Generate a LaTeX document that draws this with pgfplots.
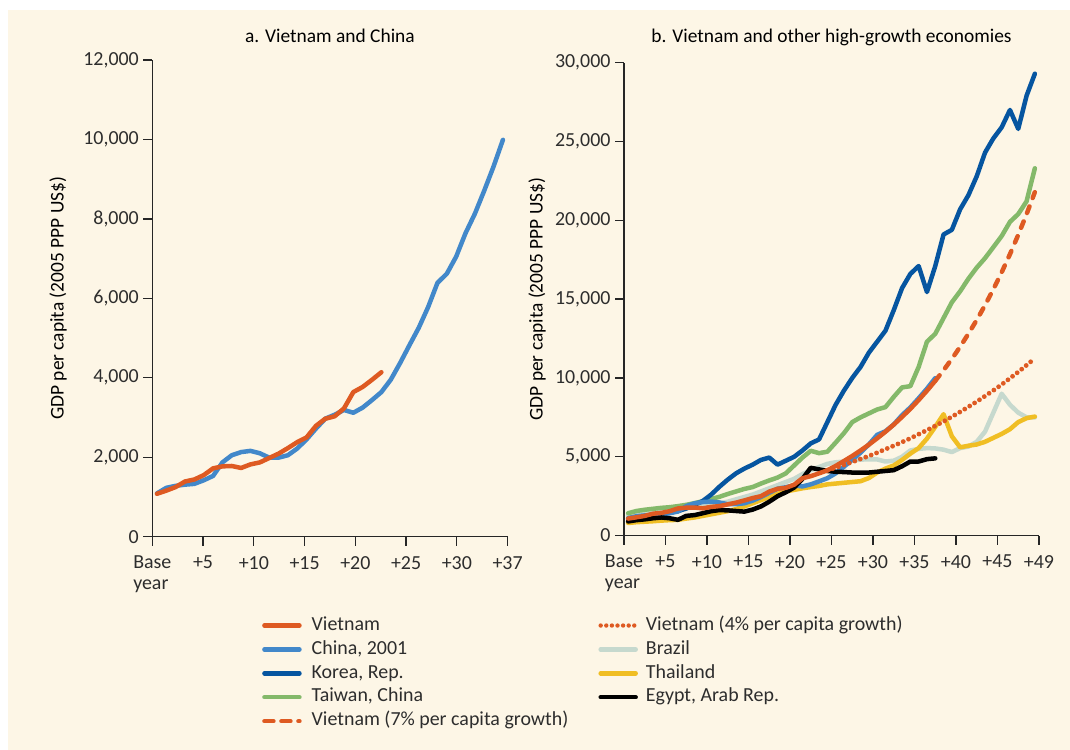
\documentclass[border=0pt]{standalone}
\usepackage{fontspec}
\setmainfont{Carlito}
\usepackage{pgfplots}
\usepackage{pgfplotstable}
\pgfplotsset{compat=1.18}
\definecolor{bg}{RGB}{253,246,230}
\definecolor{vn}{RGB}{222,90,34}
\definecolor{cn}{RGB}{66,136,202}
\definecolor{kr}{RGB}{6,85,160}
\definecolor{tw}{RGB}{132,185,106}
\definecolor{br}{RGB}{198,217,206}
\definecolor{th}{RGB}{240,190,36}
\definecolor{eg}{RGB}{0,0,0}
\definecolor{txt}{RGB}{45,45,45}

\pgfplotstableread{
k v
0 1080
1 1160
2 1250
3 1390
4 1440
5 1550
6 1720
7 1770
8 1780
9 1730
10 1820
11 1870
12 1980
13 2090
14 2230
15 2380
16 2500
17 2790
18 2970
19 3030
20 3230
21 3640
22 3770
23 3950
24 4140
}\vietnam

\pgfplotstableread{
k v
0 1090
1 1230
2 1280
3 1310
4 1330
5 1420
6 1530
7 1870
8 2050
9 2130
10 2160
11 2100
12 1990
13 1990
14 2050
15 2220
16 2450
17 2720
18 2970
19 3070
20 3190
21 3120
22 3250
23 3440
24 3640
25 3950
26 4370
27 4820
28 5260
29 5780
30 6390
31 6620
32 7050
33 7640
34 8130
35 8710
36 9320
37 9990
}\china

\pgfplotstableread{
k v
0 1100
1 1170
2 1240
3 1310
4 1380
5 1450
6 1550
7 1720
8 1950
9 2200
10 2600
11 3100
12 3550
13 3950
14 4250
15 4500
16 4800
17 4950
18 4500
19 4750
20 5000
21 5400
22 5850
23 6100
24 7200
25 8300
26 9200
27 10000
28 10700
29 11600
30 12300
31 13000
32 14300
33 15700
34 16600
35 17100
36 15450
37 17100
38 19100
39 19400
40 20700
41 21600
42 22800
43 24300
44 25200
45 25900
46 27000
47 25800
48 27900
49 29300
}\korea

\pgfplotstableread{
k v
0 1420
1 1560
2 1640
3 1700
4 1760
5 1800
6 1870
7 1950
8 2060
9 2180
10 2320
11 2460
12 2640
13 2800
14 2960
15 3080
16 3300
17 3500
18 3680
19 3950
20 4450
21 4950
22 5380
23 5230
24 5320
25 5900
26 6500
27 7200
28 7500
29 7750
30 8000
31 8150
32 8800
33 9400
34 9480
35 10700
36 12300
37 12800
38 13800
39 14800
40 15500
41 16300
42 17000
43 17600
44 18300
45 19000
46 19900
47 20400
48 21200
49 23300
}\taiwan

\pgfplotstableread{
k v
0 1300
1 1380
2 1450
3 1520
4 1580
5 1650
6 1700
7 1750
8 1800
9 1880
10 1950
11 2050
12 2150
13 2300
14 2450
15 2600
16 2800
17 3000
18 3200
19 3400
20 3600
21 3900
22 4150
23 4350
24 4550
25 4650
26 4700
27 4780
28 4820
29 4840
30 4830
31 4700
32 4750
33 5000
34 5400
35 5500
36 5550
37 5530
38 5450
39 5300
40 5550
41 5650
42 5950
43 6600
44 7800
45 9000
46 8300
47 7800
48 7500
49 7500
}\brazil

\pgfplotstableread{
k v
0 800
1 850
2 880
3 910
4 950
5 980
6 1000
7 1080
8 1150
9 1250
10 1350
11 1450
12 1550
13 1680
14 1850
15 2050
16 2250
17 2450
18 2650
19 2800
20 2900
21 3000
22 3080
23 3150
24 3250
25 3300
26 3350
27 3400
28 3450
29 3650
30 4000
31 4250
32 4450
33 4800
34 5200
35 5550
36 6150
37 6900
38 7700
39 6300
40 5600
41 5700
42 5780
43 5950
44 6200
45 6450
46 6750
47 7200
48 7450
49 7550
}\thailand

\pgfplotstableread{
k v
0 900
1 980
2 1030
3 1100
4 1150
5 1100
6 1000
7 1250
8 1300
9 1420
10 1550
11 1620
12 1600
13 1560
14 1520
15 1650
16 1850
17 2150
18 2500
19 2750
20 3050
21 3600
22 4300
23 4200
24 4100
25 4050
26 4030
27 4000
28 4000
29 4000
30 4050
31 4100
32 4150
33 4400
34 4700
35 4700
36 4850
37 4900
}\egypt

\pgfplotstableread{
k v
24 4140
25 4420
26 4730
27 5050
28 5400
29 5770
30 6170
31 6590
32 7040
33 7530
34 8040
35 8600
36 9190
37 9820
38 10490
39 11210
40 11980
41 12810
42 13680
43 14620
44 15630
45 16700
46 17850
47 19080
48 20390
49 21790
}\vnseven

\pgfplotstableread{
k v
24 4140
25 4310
26 4480
27 4670
28 4860
29 5050
30 5260
31 5480
32 5700
33 5930
34 6170
35 6430
36 6690
37 6960
38 7240
39 7540
40 7850
41 8170
42 8500
43 8850
44 9210
45 9580
46 9980
47 10380
48 10810
49 11250
}\vnfour

\pgfplotsset{
  panel/.style={
    scale only axis,
    axis x line*=bottom, axis y line*=left,
    axis line style={-, line width=1.3bp, color=black!85},
    tick style={line width=1.3bp, color=black!85},
    major tick length=9bp,
    tick align=outside,
    ymin=0,
    scaled y ticks=false,
    ticklabel style={font=\fontsize{20}{21}\selectfont, text=txt},
    /pgf/number format/1000 sep={,},
    /pgf/number format/assume math mode=true,
    xticklabel style={align=left, anchor=north, yshift=-7bp},
    yticklabel style={anchor=east, xshift=-1bp},
    title style={font=\fontsize{19.5}{22}\selectfont, text=black, anchor=base},
    ylabel style={font=\fontsize{19.5}{22}\selectfont, text=black, rotate=0, anchor=center},
    every axis plot/.append style={line width=4.5bp, line join=round, line cap=round},
  },
}

\begin{document}
\begin{tikzpicture}[x=1bp,y=1bp]
\path[use as bounding box] (0,0) rectangle (1070,750);
\fill[white] (0,0) rectangle (1070,750);
\fill[bg] (8,0) rectangle (1070,740);

% Panel a
\begin{axis}[panel,
  at={(152.3bp,213.3bp)}, anchor=south west,
  width=355.3bp, height=476.7bp,
  xmin=-0.5, xmax=37.5, ymax=12000,
  xtick={-0.5,4.9286,10.3571,15.7857,21.2143,26.6429,32.0714,37.5},
  xticklabels={{Base\\year},+5,+10,+15,+20,+25,+30,+37},
  ytick={0,2000,4000,6000,8000,10000,12000},
  title={a. Vietnam and China},
  title style={at={(axis description cs:0.5,1)}, yshift=12bp},
  ylabel={GDP per capita (2005 PPP US\$)},
  ylabel style={at={(axis description cs:-0.2654,0.5)}},
]
\addplot[cn, no markers] table[x=k,y=v] {\china};
\addplot[vn, no markers] table[x=k,y=v] {\vietnam};
\end{axis}

% Panel b
\begin{axis}[panel,
  at={(624bp,214.4bp)}, anchor=south west,
  width=415bp, height=472.9bp,
  xmin=-0.5, xmax=49.5, ymax=30000,
  xtick={-0.5,4.5,9.5,14.5,19.5,24.5,29.5,34.5,39.5,44.5,49.5},
  xticklabels={{Base\\year},+5,+10,+15,+20,+25,+30,+35,+40,+45,+49},
  ytick={0,5000,10000,15000,20000,25000,30000},
  title={b. Vietnam and other high-growth economies},
  title style={at={(axis description cs:0.5,1)}, yshift=14.7bp},
  ylabel={GDP per capita (2005 PPP US\$)},
  ylabel style={at={(axis description cs:-0.2096,0.5)}},
  legend columns=2,
  legend cell align=left,
  legend image code/.code={\draw[#1] (0bp,0bp) -- (35bp,0bp);},
  legend style={draw=none, fill=none, at={(axis description cs:-0.8795,-0.166)}, anchor=north west,
    font=\fontsize{20}{22}\selectfont, text=txt,
    nodes={inner sep=0bp, text height=14bp, text depth=4.5bp},
    row sep=5.4bp, column sep=0bp,
    /tikz/column 1/.style={column sep=10bp},
    /tikz/column 2/.style={column sep=30bp},
    /tikz/column 3/.style={column sep=8bp}},
]
\addplot[br, no markers, forget plot] table[x=k,y=v] {\brazil};
\addplot[th, no markers, forget plot] table[x=k,y=v] {\thailand};
\addplot[tw, no markers, forget plot] table[x=k,y=v] {\taiwan};
\addplot[kr, no markers, forget plot] table[x=k,y=v] {\korea};
\addplot[cn, no markers, forget plot] table[x=k,y=v] {\china};
\addplot[eg, no markers, forget plot] table[x=k,y=v] {\egypt};
\addplot[vn, no markers, forget plot] table[x=k,y=v] {\vietnam};
\addplot[vn, no markers, forget plot, line width=4.8bp, dash pattern=on 0bp off 5.8bp] table[x=k,y=v] {\vnfour};
\addplot[vn, no markers, forget plot, restrict x to domain=24:37] table[x=k,y=v] {\vnseven};
\addplot[vn, no markers, forget plot, dash pattern=on 7bp off 9bp, restrict x to domain=37:49] table[x=k,y=v] {\vnseven};

\addlegendimage{vn, line width=4.5bp, line cap=round}
\addlegendentry{Vietnam}
\addlegendimage{vn, line width=4.4bp, line cap=round, dash pattern=on 0bp off 5.6bp}
\addlegendentry{Vietnam (4\% per capita growth)}
\addlegendimage{cn, line width=4.5bp, line cap=round}
\addlegendentry{China, 2001}
\addlegendimage{br, line width=4.5bp, line cap=round}
\addlegendentry{Brazil}
\addlegendimage{kr, line width=4.5bp, line cap=round}
\addlegendentry{Korea, Rep.}
\addlegendimage{th, line width=4.5bp, line cap=round}
\addlegendentry{Thailand}
\addlegendimage{tw, line width=4.5bp, line cap=round}
\addlegendentry{Taiwan, China}
\addlegendimage{eg, line width=4.5bp, line cap=round}
\addlegendentry{Egypt, Arab Rep.}
\addlegendimage{vn, line width=4.5bp, line cap=round, dash pattern=on 9bp off 8bp}
\addlegendentry{Vietnam (7\% per capita growth)}
\end{axis}
\end{tikzpicture}
\end{document}
